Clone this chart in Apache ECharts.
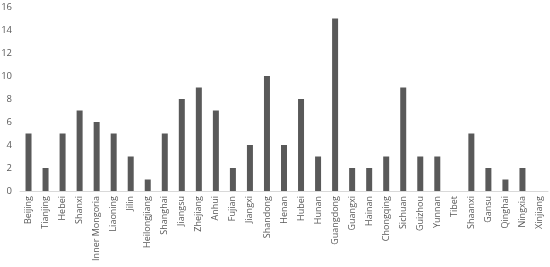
<!DOCTYPE html>
<html><head><meta charset="utf-8">
<script src="https://cdn.jsdelivr.net/npm/echarts@6/dist/echarts.min.js"></script>
<style>html,body{margin:0;padding:0;background:#fff}#c{width:550px;height:267px}</style>
</head><body><div id="c"></div>
<script>
const categories = ["Beijing","Tianjing","Hebei","Shanxi","Inner Mongoria","Liaoning","Jilin","Heilongjiang","Shanghai","Jiangsu","Zhejiang","Anhui","Fujian","Jiangxi","Shandong","Henan","Hubei","Hunan","Guangdong","Guangxi","Hainan","Chongqing","Sichuan","Guizhou","Yunnan","Tibet","Shaanxi","Gansu","Qinghai","Ningxia","Xinjiang"];
const values = [5,2,5,7,6,5,3,1,5,8,9,7,2,4,10,4,8,3,15,2,2,3,9,3,3,0,5,2,1,2,0];
const chart = echarts.init(document.getElementById('c'));
chart.setOption({
  animation:false,
  grid:{left:20,right:2,top:7,bottom:76,outerBoundsMode:'none',containLabel:false},
  xAxis:{type:'category',data:categories,
    axisLine:{lineStyle:{color:'#d9d9d9'}},axisTick:{show:false},
    axisLabel:{rotate:90,interval:0,color:'#595959',fontSize:9,fontFamily:'Open Sans',margin:5}},
  yAxis:{type:'value',min:0,max:16,interval:2,
    splitLine:{show:false},axisLine:{show:false},axisTick:{show:false},
    axisLabel:{color:'#595959',fontSize:9.5,fontFamily:'Open Sans',margin:8}},
  series:[{type:'bar',data:values,barWidth:6,itemStyle:{color:'#595959'}}]
});
</script></body></html>
